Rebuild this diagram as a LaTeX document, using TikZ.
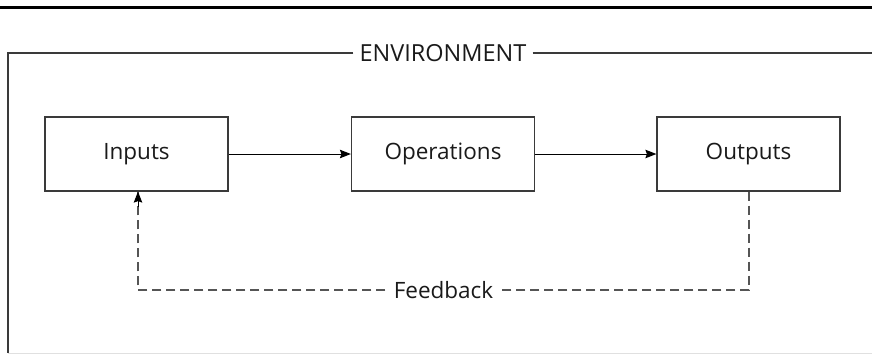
\documentclass[tikz,border=0pt]{standalone}
\usepackage{fontspec}
\setmainfont{Open Sans}
\usetikzlibrary{arrows.meta,calc}
\definecolor{linegray}{HTML}{3A3A3A}
\definecolor{dashgray}{HTML}{555555}
\definecolor{textgray}{HTML}{1A1A1A}
\begin{document}
\begin{tikzpicture}[x=1pt,y=-1pt,
  stepbox/.style={draw=linegray,line width=1.2pt,minimum width=183pt,minimum height=74pt,inner sep=0pt,font=\fontsize{22.5}{26}\selectfont,text=textgray},
  tip/.style={-{Stealth[length=11pt,width=8.5pt,inset=1.5pt]}},
  flow/.style={draw=black,line width=1pt,tip},
  fb/.style={draw=dashgray,line width=1.2pt,dash pattern=on 9pt off 5pt},
  lbl/.style={font=\fontsize{22.5}{26}\selectfont,text=textgray,inner sep=0pt}]
\useasboundingbox (0,0) rectangle (872,354);
% top rule
\draw[line width=3pt,black] (0,7) -- (872,7);
% environment frame
\node[lbl,font=\fontsize{23.5}{27}\selectfont] (env) at (443,53) {ENVIRONMENT};
\coordinate (envtl) at (8,53);
\coordinate (envbl) at (8,353);
\coordinate (envtr) at (872,53);
\coordinate (envbr) at (872,353);
\draw[linegray,line width=1.2pt] ($(env.west)+(-6,0)$) -- (envtl) -- (envbl);
\draw[linegray,line width=1.2pt] ($(env.east)+(6,0)$) -- (envtr);
\draw[black!12,line width=1pt] (envbl) -- (envbr);
% boxes
\node[stepbox] (in) at (136.5,154) {Inputs};
\node[stepbox] (op) at (443,154) {Operations};
\node[stepbox] (out) at (748.5,154) {Outputs};
\draw[flow] (in) -- (op);
\draw[flow] (op) -- (out);
% feedback
\coordinate (fbr) at (749,290);
\coordinate (fbl) at (138,290);
\draw[fb] (out.south -| fbr) -- (fbr) -- node[lbl,fill=white,inner xsep=6pt,inner ysep=3pt] (fbtext) {Feedback} (fbl) -- (in.south -| fbl);
\draw[flow] ($(in.south -| fbl)+(0,15)$) -- (in.south -| fbl);
\end{tikzpicture}
\end{document}
